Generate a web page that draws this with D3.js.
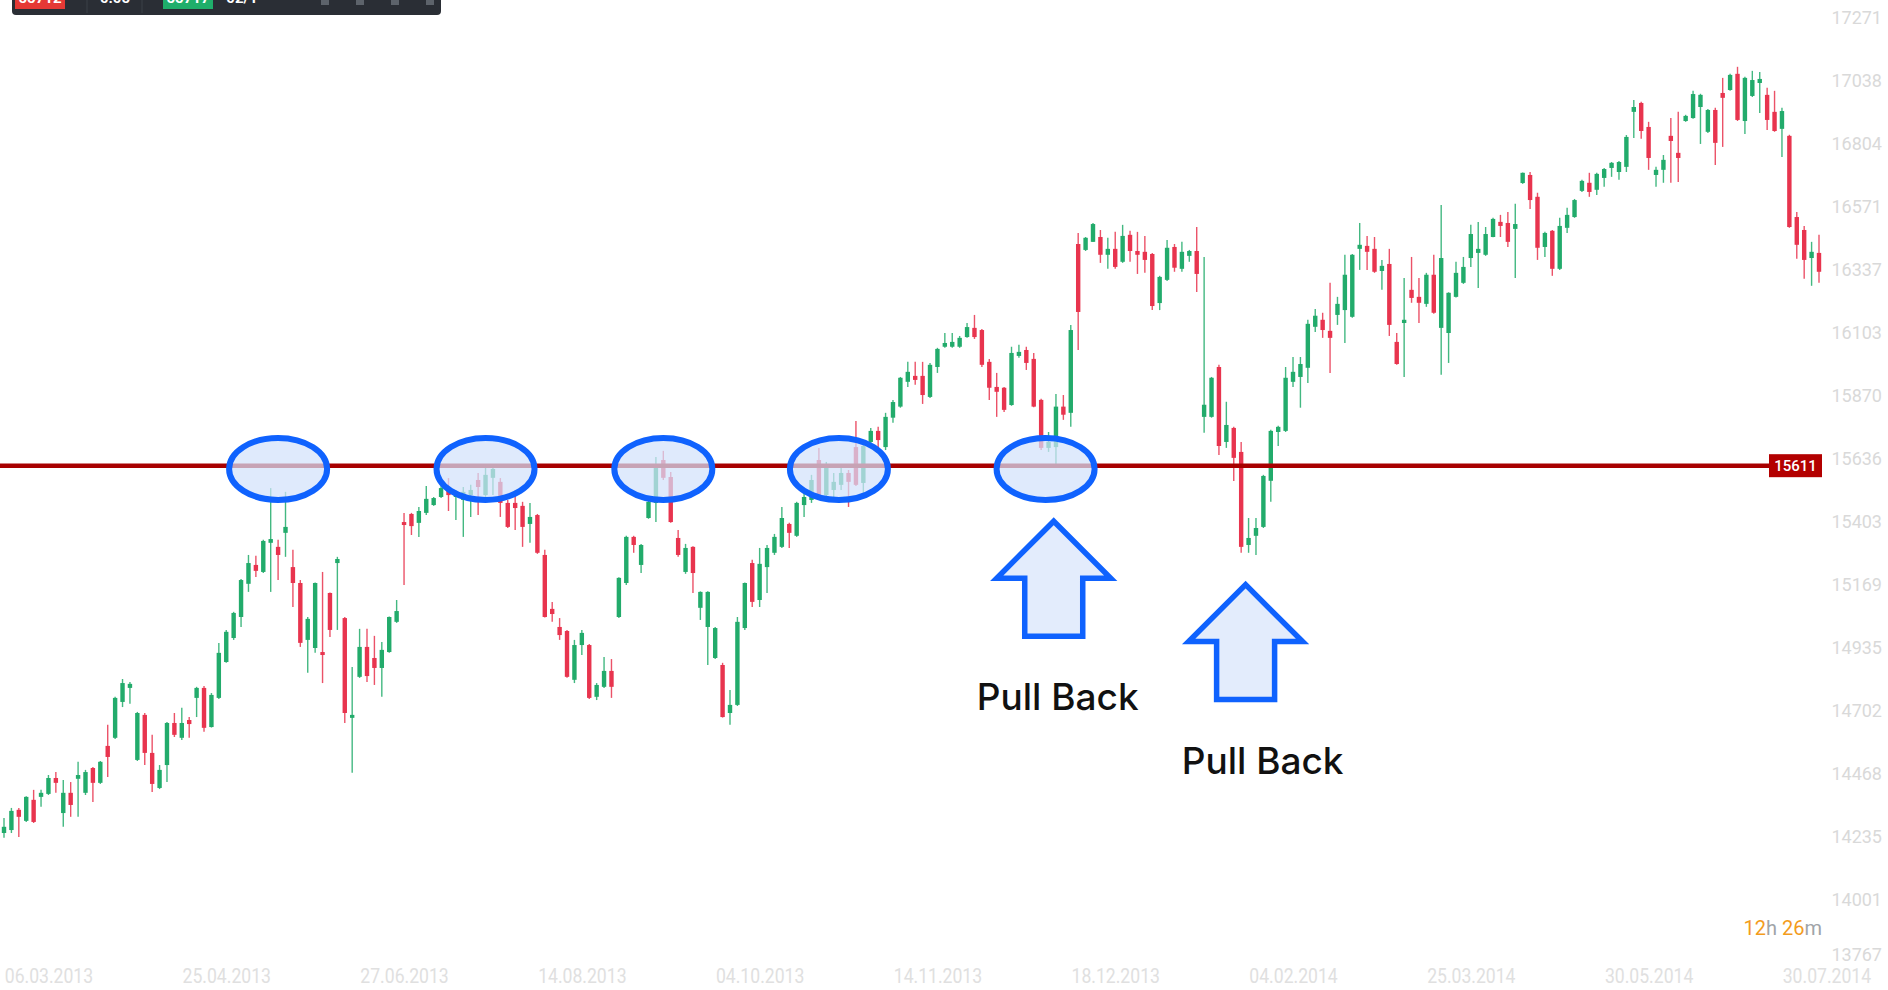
<!DOCTYPE html>
<html>
<head>
<meta charset="utf-8">
<script src="https://cdnjs.cloudflare.com/ajax/libs/d3/7.8.5/d3.min.js"></script>
<style>
  html, body { margin: 0; padding: 0; background: #fff; overflow: hidden; }
</style>
</head>
<body>
<div id="chart"></div>
<script>
// daily candles
const opens = [
  14249,14260,14335,14294,14372,14383,14394,14453,14323,14398,
  14450,14398,14490,14435,14572,14602,14735,14787,14520,14687,
  14546,14416,14501,14657,14602,14668,14750,14787,14642,14750,
  14883,14972,15050,15173,15243,15217,15325,15310,15362,15235,
  15176,14965,14935,14920,15139,15250,15046,14676,14828,14939,
  14898,14861,14920,15032,15402,15432,15399,15436,15465,15495,
  15521,15495,15484,15502,15558,15502,15566,15551,15473,15473,
  15462,15395,15428,15280,15080,15013,14998,14817,14946,14946,
  14754,14791,14850,15050,15176,15347,15243,15417,15473,15632,
  15569,15343,15217,15310,15084,15013,14898,14872,14694,14724,
  15009,15250,15113,15235,15288,15310,15395,15351,15465,15484,
  15632,15502,15521,15540,15584,15680,15547,15699,15740,15680,
  15789,15830,15922,15944,15944,15866,15977,16052,16052,16052,
  16088,16122,16114,15996,15903,15900,15836,16018,16040,16007,
  15855,15677,15680,15830,15807,16433,16411,16441,16459,16393,
  16415,16367,16467,16407,16404,16396,16214,16300,16422,16341,
  16389,16407,15792,15792,15977,15699,15751,15662,15317,15351,
  15384,15555,15736,15740,15922,15940,15974,16126,16152,16111,
  16170,16188,16163,16415,16426,16415,16333,16359,16070,16140,
  16263,16237,16211,16319,16122,16103,16237,16289,16381,16400,
  16393,16459,16515,16511,16489,16659,16689,16608,16422,16482,
  16341,16493,16533,16630,16660,16634,16678,16715,16700,16719,
  16923,16956,16867,16689,16708,16834,16771,16889,16900,16941,
  16849,16930,16993,17004,17064,16889,16982,17030,16986,16923,
  16860,16834,16533,16485,16381,16400
];
const highs = [
  14305,14342,14342,14385,14409,14409,14464,14475,14446,14438,
  14513,14483,14494,14516,14650,14754,14820,14809,14698,14694,
  14613,14501,14661,14694,14713,14679,14791,14794,14768,14954,
  15002,15069,15191,15280,15277,15336,15528,15336,15514,15299,
  15187,15050,15178,15217,15141,15273,15050,14865,15006,15006,
  14980,14957,15052,15113,15436,15436,15458,15536,15495,15540,
  15565,15521,15532,15540,15584,15603,15606,15565,15484,15521,
  15477,15473,15432,15299,15106,15046,15002,14965,15002,14950,
  14805,14902,14894,15197,15351,15351,15321,15484,15643,15666,
  15588,15373,15321,15312,15145,15145,15013,14880,14779,15050,
  15178,15262,15306,15317,15358,15458,15399,15477,15514,15577,
  15677,15625,15584,15603,15595,15777,15695,15751,15755,15807,
  15855,15940,15996,15996,15996,15992,16048,16103,16103,16092,
  16140,16170,16118,16007,15955,15903,16052,16059,16052,16029,
  15859,15736,15877,15873,16133,16474,16459,16511,16485,16456,
  16478,16504,16482,16478,16463,16400,16315,16448,16433,16441,
  16411,16496,16385,15940,15985,15848,15755,15699,15417,15417,
  15577,15744,15759,15977,16014,16014,16152,16192,16178,16289,
  16237,16393,16396,16511,16463,16459,16374,16415,16103,16307,
  16385,16307,16326,16393,16578,16254,16367,16385,16504,16515,
  16496,16530,16541,16552,16582,16698,16700,16623,16478,16485,
  16530,16567,16600,16671,16697,16697,16715,16737,16741,16837,
  16967,16960,16886,16719,16763,16900,16923,16912,17001,16990,
  16934,16938,17049,17064,17090,17053,17075,17071,17012,17001,
  16938,16838,16552,16500,16441,16467
];
const lows = [
  14231,14249,14234,14290,14286,14346,14390,14398,14272,14309,
  14309,14390,14364,14431,14457,14598,14716,14728,14516,14501,
  14401,14412,14438,14605,14594,14602,14679,14624,14640,14746,
  14880,14965,15013,15143,15198,15213,15143,15187,15273,15087,
  14939,14843,14917,14805,14976,15002,14657,14472,14824,14809,
  14798,14754,14917,15028,15169,15354,15347,15428,15462,15491,
  15443,15410,15347,15421,15428,15495,15502,15421,15380,15373,
  15310,15325,15284,15048,15032,14965,14825,14805,14909,14746,
  14742,14787,14750,15046,15169,15288,15213,15414,15402,15558,
  15399,15273,15210,15139,15039,14872,14894,14677,14650,14720,
  15002,15087,15087,15139,15280,15306,15306,15347,15421,15473,
  15484,15495,15495,15521,15458,15536,15510,15695,15669,15669,
  15770,15826,15903,15911,15840,15862,15955,16048,16048,16048,
  16085,16081,15977,15855,15792,15810,15833,16011,15966,15828,
  15669,15662,15614,15781,15755,16040,16407,16440,16363,16341,
  16341,16363,16367,16322,16326,16188,16188,16296,16330,16330,
  16367,16255,15733,15789,15651,15677,15554,15288,15288,15280,
  15380,15477,15684,15736,15903,15826,15918,16107,16085,15955,
  16133,16066,16160,16337,16337,16326,16263,16092,15985,15940,
  16215,16140,16200,16174,15948,15992,16235,16285,16348,16270,
  16389,16458,16459,16422,16307,16656,16563,16374,16385,16315,
  16337,16474,16530,16626,16608,16615,16645,16682,16671,16700,
  16826,16823,16708,16645,16660,16660,16663,16886,16897,16804,
  16845,16726,16793,17001,16889,16841,16978,16919,16856,16849,
  16756,16493,16378,16304,16278,16289
];
const closes = [
  14272,14331,14309,14383,14290,14398,14453,14435,14398,14353,
  14464,14475,14435,14513,14531,14750,14805,14802,14694,14546,
  14431,14483,14657,14613,14657,14653,14787,14639,14761,14917,
  14995,15065,15187,15250,15221,15332,15339,15280,15384,15176,
  14954,15043,15176,14909,15002,15265,14694,14687,14939,14831,
  14861,14928,15050,15072,15391,15387,15443,15488,15491,15528,
  15502,15514,15514,15521,15532,15577,15599,15473,15384,15454,
  15384,15421,15288,15050,15061,14983,14828,14946,14991,14750,
  14798,14850,14791,15195,15347,15317,15317,15477,15606,15566,
  15402,15280,15306,15213,15143,15143,15009,14679,14724,15032,
  15176,15106,15247,15306,15347,15417,15362,15473,15495,15558,
  15495,15606,15551,15584,15551,15540,15684,15740,15706,15792,
  15847,15937,15959,15929,15873,15985,16044,16066,16070,16085,
  16125,16088,15985,15900,15885,15818,16029,16033,15992,15830,
  15677,15699,15830,15800,16114,16181,16456,16507,16393,16415,
  16348,16463,16407,16393,16374,16203,16311,16419,16345,16404,
  16407,16322,15837,15937,15684,15762,15640,15310,15343,15380,
  15573,15740,15755,15937,15959,15988,16137,16167,16114,16085,
  16211,16319,16393,16430,16404,16330,16352,16133,15988,16152,
  16233,16215,16319,16178,16381,16252,16326,16348,16470,16415,
  16470,16526,16500,16441,16507,16697,16596,16419,16474,16341,
  16500,16541,16596,16667,16626,16693,16711,16734,16737,16830,
  16941,16852,16752,16708,16745,16815,16752,16908,16989,16986,
  16930,16808,16975,17060,16893,17049,17041,17045,16893,16852,
  16926,16496,16430,16374,16404,16330
];

// axis labels
const dateLabels = ["06.03.2013", "25.04.2013", "27.06.2013", "14.08.2013", "04.10.2013",
  "14.11.2013", "18.12.2013", "04.02.2014", "25.03.2014", "30.05.2014", "30.07.2014"];
const priceTicks = [13767, 14001, 14235, 14468, 14702, 14935, 15169, 15403, 15636,
  15870, 16103, 16337, 16571, 16804, 17038, 17271];

// annotations (candle index / price)
const level = 15611;
const touchIdx = [37, 65, 89, 112.7, 140.6];
const pullIdx = [141.7, 167.6];
const pullTip = [15405, 15170];
const pullText = ["Pull Back", "Pull Back"];

const W = 1888, H = 990;
const green = "#22ab6b", red = "#e8344e", blue = "#0f62fe";

const svg = d3
  .select("#chart")
  .append("svg")
  .attr("width", W)
  .attr("height", H)
  .style("display", "block")
  .style("background", "#fff");

const x = d3.scaleLinear().domain([0, opens.length - 1]).range([4, 1819]);
const y = d3.scaleLinear().domain([13767, 17271]).range([963, 18]);

// price axis on the right
const yAxis = svg
  .append("g")
  .attr("transform", "translate(1882,0)")
  .call(d3.axisRight(y).tickValues(priceTicks).tickSize(0).tickFormat(d3.format("d")));
yAxis.select(".domain").remove();
yAxis
  .selectAll("text")
  .attr("x", 0)
  .attr("text-anchor", "end")
  .style("font-family", "Roboto, sans-serif")
  .style("font-size", "18px")
  .style("fill", "#d9d9d9");
yAxis
  .selectAll(".tick")
  .filter(d => d === 13767)
  .select("text")
  .attr("dy", "-0.12em");

// date axis
const dateIdx = dateLabels.map((d, i) => 6 + i * 24);
const xAxis = svg
  .append("g")
  .attr("transform", "translate(0,966)")
  .call(d3.axisBottom(x).tickValues(dateIdx).tickSize(0).tickFormat((d, i) => dateLabels[i]));
xAxis.select(".domain").remove();
xAxis
  .selectAll("text")
  .attr("transform", "scale(0.88,1)")
  .style("font-family", "Roboto, sans-serif")
  .style("font-size", "20px")
  .style("fill", "#e0e0e0");

// candles
const idx = d3.range(opens.length);
const candle = svg
  .append("g")
  .selectAll("g")
  .data(idx)
  .enter()
  .append("g");

candle
  .append("line")
  .attr("x1", i => x(i))
  .attr("x2", i => x(i))
  .attr("y1", i => y(highs[i]))
  .attr("y2", i => y(lows[i]))
  .attr("stroke", i => (closes[i] >= opens[i] ? green : red))
  .attr("stroke-width", 1.4)
  .attr("stroke-opacity", 0.85);

candle
  .append("rect")
  .attr("x", i => x(i) - 2.2)
  .attr("width", 4.4)
  .attr("y", i => y(Math.max(opens[i], closes[i])))
  .attr("height", i => Math.max(1.6, Math.abs(y(opens[i]) - y(closes[i]))))
  .attr("fill", i => (closes[i] >= opens[i] ? green : red));

// support / resistance level
svg
  .append("line")
  .attr("x1", 0)
  .attr("x2", 1770)
  .attr("y1", y(level))
  .attr("y2", y(level))
  .attr("stroke", "#a80000")
  .attr("stroke-width", 4.5);

svg
  .append("rect")
  .attr("x", 1769)
  .attr("y", y(level) - 11.5)
  .attr("width", 53)
  .attr("height", 23)
  .attr("fill", "#b30000");

svg
  .append("text")
  .attr("x", 1795.5)
  .attr("y", y(level) + 5.5)
  .attr("text-anchor", "middle")
  .style("font-family", "Roboto, sans-serif")
  .style("font-size", "15px")
  .style("font-weight", 500)
  .style("fill", "#fff")
  .text(level);

// touches of the level
svg
  .append("g")
  .selectAll("ellipse")
  .data(touchIdx)
  .enter()
  .append("ellipse")
  .attr("cx", d => x(d))
  .attr("cy", y(15599))
  .attr("rx", 49)
  .attr("ry", 31)
  .attr("fill", "#d3e2fb")
  .attr("fill-opacity", 0.72)
  .attr("stroke", blue)
  .attr("stroke-width", 6);

// pull back arrows
const arrow = "M0,0 L57,57 L29,57 L29,115 L-29,115 L-29,57 L-57,57 Z";
svg
  .append("g")
  .selectAll("path")
  .data(pullIdx)
  .enter()
  .append("path")
  .attr("transform", (d, i) => "translate(" + x(d) + "," + y(pullTip[i]) + ")")
  .attr("d", arrow)
  .attr("fill", "#e3ecfc")
  .attr("stroke", blue)
  .attr("stroke-width", 5.5)
  .attr("stroke-linejoin", "miter");

const textShift = [4, 17];
svg
  .append("g")
  .selectAll("text")
  .data(pullIdx)
  .enter()
  .append("text")
  .attr("x", (d, i) => x(d) + textShift[i])
  .attr("y", (d, i) => y(pullTip[i]) + 189)
  .attr("text-anchor", "middle")
  .style("font-family", "Inter, Roboto, sans-serif")
  .style("font-size", "37px")
  .style("font-weight", 500)
  .style("fill", "#111")
  .text((d, i) => pullText[i]);

// countdown
const timer = svg
  .append("text")
  .attr("x", 1822)
  .attr("y", 935)
  .attr("text-anchor", "end")
  .style("font-family", "Roboto, sans-serif")
  .style("font-size", "20px");
[["12", "#f39c1d"], ["h ", "#a0a4a8"], ["26", "#f39c1d"], ["m", "#a0a4a8"]].forEach(p => {
  timer.append("tspan").style("fill", p[1]).text(p[0]);
});

// toolbar, cut off at the top edge
const bar = svg.append("g");
bar
  .append("path")
  .attr("d", "M12,0 H441 V11 Q441,15 437,15 H16 Q12,15 12,11 Z")
  .attr("fill", "#2a2e35");
bar.append("rect").attr("x", 15).attr("y", 0).attr("width", 50).attr("height", 9).attr("fill", "#e53935");
bar.append("rect").attr("x", 163).attr("y", 0).attr("width", 50).attr("height", 9).attr("fill", "#1fae6a");
bar.append("line").attr("x1", 87).attr("x2", 87).attr("y1", 0).attr("y2", 13).attr("stroke", "#3b4048");
bar.append("line").attr("x1", 142).attr("x2", 142).attr("y1", 0).attr("y2", 13).attr("stroke", "#3b4048");
[[40, "55712"], [115, "0.05"], [188, "55717"], [242, "02/1"]].forEach(t => {
  bar
    .append("text")
    .attr("x", t[0])
    .attr("y", 3)
    .attr("text-anchor", "middle")
    .style("font-family", "Roboto, sans-serif")
    .style("font-size", "15px")
    .style("font-weight", 700)
    .style("fill", "#fff")
    .text(t[1]);
});
[325, 360, 395, 430].forEach(px => {
  bar.append("rect").attr("x", px - 4).attr("y", 0).attr("width", 8).attr("height", 5).attr("fill", "#5d636b");
});
</script>
</body>
</html>
